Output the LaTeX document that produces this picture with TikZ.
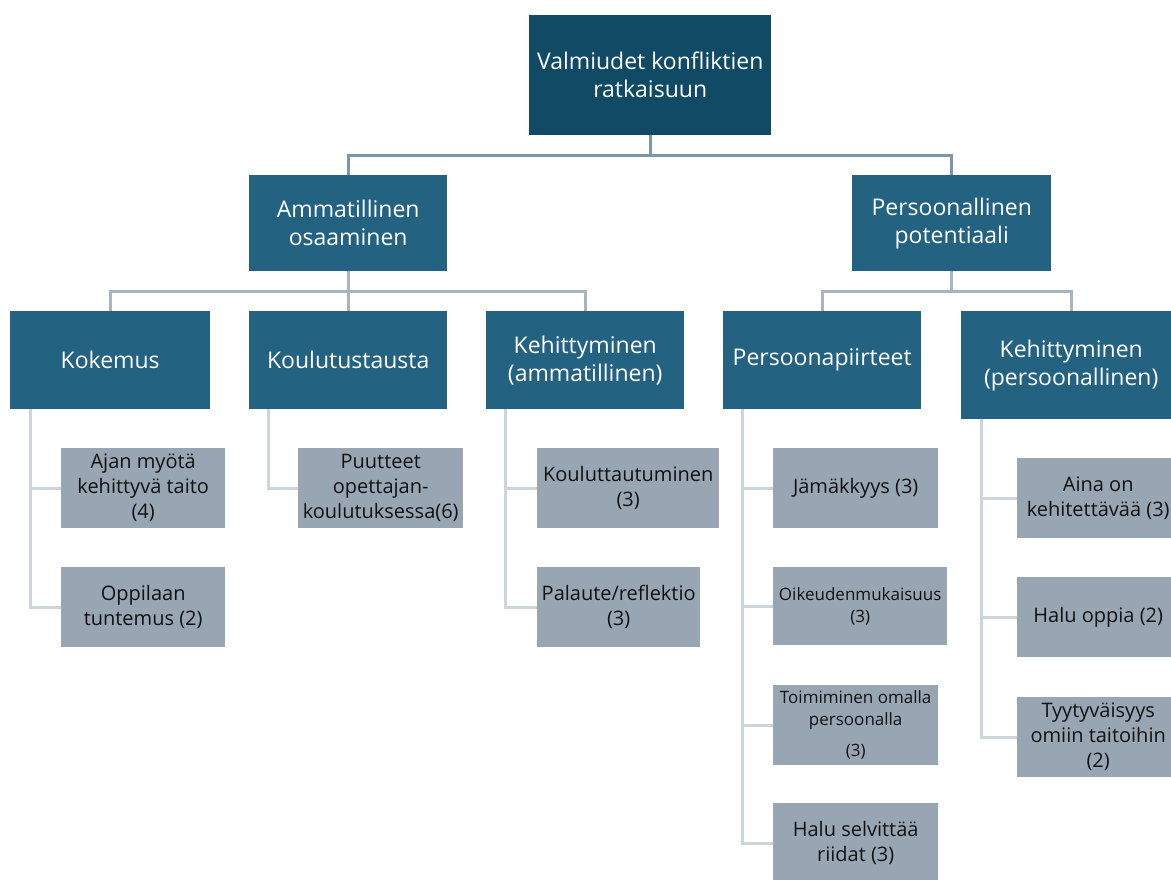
\documentclass[tikz,border=0pt]{standalone}
\usepackage{fontspec}
\setmainfont{Open Sans}
\definecolor{topblue}{RGB}{16,74,100}
\definecolor{midblue}{RGB}{36,98,130}
\definecolor{leafgray}{RGB}{152,166,180}
\definecolor{leaftext}{RGB}{17,17,17}
\definecolor{lineA}{RGB}{124,149,168}
\definecolor{lineB}{RGB}{166,181,193}
\definecolor{lineC}{RGB}{204,213,220}
\begin{document}
\begin{tikzpicture}[x=1pt,y=-1pt,
  box/.style={anchor=north west, inner sep=0pt, align=center, text=white,
    font=\fontsize{23}{28}\selectfont},
  topbox/.style={box, fill=topblue},
  midbox/.style={box, fill=midblue},
  leaf/.style={anchor=north west, inner sep=0pt, align=center, fill=leafgray,
    text=leaftext, font=\fontsize{20}{25}\selectfont},
  smallleaf/.style={leaf, font=\fontsize{17}{22}\selectfont},
  conA/.style={draw=lineA, line width=3pt},
  conB/.style={draw=lineB, line width=3pt},
  conC/.style={draw=lineC, line width=3pt},
]
\useasboundingbox (0,0) rectangle (1171,880);
\clip (0,0) rectangle (1171,880);
\fill[white] (0,0) rectangle (1171,880);

% root and second level
\node[topbox, minimum width=242, minimum height=120] (root) at (529,15)
  {Valmiudet konfliktien\\ratkaisuun};
\node[midbox, minimum width=198, minimum height=96] (amm) at (249,175)
  {Ammatillinen\\osaaminen};
\node[midbox, minimum width=199, minimum height=96] (pers) at (852,175)
  {Persoonallinen\\potentiaali};

% third level
\node[midbox, minimum width=200, minimum height=98] (kok) at (10,311) {Kokemus};
\node[midbox, minimum width=198, minimum height=98] (kou) at (249,311) {Koulutustausta};
\node[midbox, minimum width=198, minimum height=98] (keha) at (486,311)
  {Kehittyminen\\(ammatillinen)};
\node[midbox, minimum width=198, minimum height=98] (persp) at (723,311) {Persoonapiirteet};
\node[midbox, minimum width=220, minimum height=108] (kehp) at (961,311)
  {Kehittyminen\\(persoonallinen)};

% leaves
\node[leaf, minimum width=164, minimum height=80] (ajan) at (61,448)
  {Ajan myötä\\kehittyvä taito\\(4)};
\node[leaf, minimum width=164, minimum height=80] (opp) at (61,567)
  {Oppilaan\\tuntemus (2)};
\node[leaf, minimum width=165, minimum height=80] (puu) at (298,448)
  {Puutteet\\opettajan-\\koulutuksessa(6)};
\node[leaf, minimum width=182, minimum height=80] (koul) at (537,448)
  {Kouluttautuminen\\(3)};
\node[leaf, minimum width=163, minimum height=80] (pal) at (537,567)
  {Palaute/reflektio\\(3)};
\node[leaf, minimum width=165, minimum height=80] (jam) at (773,448) {Jämäkkyys (3)};
\node[smallleaf, minimum width=174, minimum height=78] (oik) at (773,567)
  {Oikeudenmukaisuus\\(3)};
\node[smallleaf, minimum width=165, minimum height=80] (toi) at (773,685)
  {Toimiminen omalla\\persoonalla\\[9pt](3)};
\node[leaf, minimum width=165, minimum height=80] (hal) at (773,803)
  {Halu selvittää\\riidat (3)};
\node[leaf, minimum width=162, minimum height=80] (aina) at (1017,458)
  {Aina on\\kehitettävää (3)};
\node[leaf, minimum width=162, minimum height=80] (halu) at (1017,577)
  {Halu oppia (2)};
\node[leaf, minimum width=162, minimum height=80] (tyy) at (1017,697)
  {Tyytyväisyys\\omiin taitoihin\\(2)};

% connectors, root to second level
\draw[conA] (root.south) -- ++(0,20) -| (amm.north);
\draw[conA] (root.south) -- ++(0,20) -| (pers.north);

% second to third level
\draw[conB] (amm.south) -- ++(0,20) -| (kok.north);
\draw[conB] (amm.south) -- (kou.north);
\draw[conB] (amm.south) -- ++(0,20) -| (keha.north);
\draw[conB] (pers.south) -- ++(0,20) -| (persp.north);
\draw[conB] (pers.south) -- ++(0,20) -| (kehp.north);

% third level to leaves
\draw[conC] ([xshift=20]kok.south west) |- (ajan.west);
\draw[conC] ([xshift=20]kok.south west) |- (opp.west);
\draw[conC] ([xshift=19]kou.south west) |- (puu.west);
\draw[conC] ([xshift=19]keha.south west) |- (koul.west);
\draw[conC] ([xshift=19]keha.south west) |- (pal.west);
\draw[conC] ([xshift=19]persp.south west) |- (jam.west);
\draw[conC] ([xshift=19]persp.south west) |- (oik.west);
\draw[conC] ([xshift=19]persp.south west) |- (toi.west);
\draw[conC] ([xshift=19]persp.south west) |- (hal.west);
\draw[conC] ([xshift=20]kehp.south west) |- (aina.west);
\draw[conC] ([xshift=20]kehp.south west) |- (halu.west);
\draw[conC] ([xshift=20]kehp.south west) |- (tyy.west);
\end{tikzpicture}
\end{document}
